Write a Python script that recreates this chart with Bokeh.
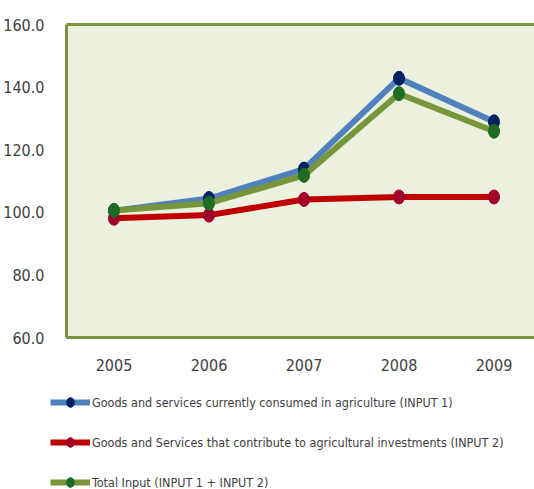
from bokeh.plotting import figure
from bokeh.layouts import column, row
from bokeh.models import (Range1d, FixedTicker, PrintfTickFormatter, LinearAxis,
                          Legend, LegendItem)
from bokeh.embed import file_html
from bokeh.resources import INLINE

years = [2005, 2006, 2007, 2008, 2009]
input1 = [100.5, 104.4, 113.8, 142.8, 128.9]
input2 = [98.1, 99.1, 104.1, 104.9, 104.9]
total = [100.6, 102.9, 111.8, 137.9, 125.9]
labels = ["Goods and services currently consumed in agriculture (INPUT 1)",
          "Goods and Services that contribute to agricultural investments (INPUT 2)",
          "Total Input (INPUT 1 + INPUT 2)"]
y_ticks = [60, 80, 100, 120, 140, 160]

FONT = "DejaVu Sans Condensed"
TXT = "#404040"
BORDER = "#77933C"

p = figure(width=534, height=378, output_backend="svg", toolbar_location=None,
           x_range=Range1d(2004.5, 2004.5 + 468 / 95), y_range=Range1d(60, 160),
           min_border_left=66, min_border_right=0, min_border_top=24, min_border_bottom=41)
p.background_fill_color = "#EBF0DF"
p.border_fill_color = "white"
p.outline_line_color = None
p.grid.visible = False

for ax in (p.xaxis[0], p.yaxis[0]):
    ax.axis_line_color = BORDER
    ax.axis_line_width = 3
    ax.major_tick_line_color = None
    ax.minor_tick_line_color = None
    ax.major_label_text_font = FONT
    ax.major_label_text_color = TXT
    ax.major_label_text_font_size = "16px"

p.yaxis.ticker = FixedTicker(ticks=y_ticks)
p.yaxis.formatter = PrintfTickFormatter(format="%.1f")
p.yaxis.major_label_standoff = 16
p.xaxis.ticker = FixedTicker(ticks=years)
p.xaxis.major_label_standoff = 15

top = LinearAxis(axis_line_color=BORDER, axis_line_width=3, major_tick_line_color=None,
                 minor_tick_line_color=None, major_label_text_font_size="0px",
                 major_label_standoff=0, ticker=FixedTicker(ticks=[]))
p.add_layout(top, "above")

series = [(input1, "#4F81BD", "#002060"),
          (input2, "#C00000", "#A0002A"),
          (total, "#77963A", "#1E6B24")]
for vals, lc, mc in series:
    p.line(years, vals, line_color=lc, line_width=6)
    p.ellipse(years, vals, width=11, height=14, width_units="screen",
              height_units="screen", fill_color=mc, line_color=mc)

# legend strip below the chart (same series, drawn outside its visible range)
lg = figure(width=534, height=111, output_backend="svg", toolbar_location=None,
            x_range=Range1d(0, 1), y_range=Range1d(0, 1),
            x_axis_location=None, y_axis_location=None, min_border=0)
lg.outline_line_color = None
lg.grid.visible = False
lg.background_fill_color = "white"
lg.border_fill_color = "white"
items = []
for (vals, lc, mc), lab in zip(series, labels):
    ln = lg.line(years, vals, line_color=lc, line_width=6)
    el = lg.ellipse(years, vals, width=11, height=14, width_units="screen",
                    height_units="screen", fill_color=mc, line_color=mc)
    items.append(LegendItem(label=lab, renderers=[ln, el]))

legend = Legend(items=items, location=(50, -3), orientation="vertical",
                label_text_font=FONT, label_text_font_size="12.5px", label_text_color=TXT,
                glyph_width=40, glyph_height=12, label_height=20, spacing=20,
                padding=0, margin=0, label_standoff=2,
                border_line_color=None, background_fill_alpha=0)
lg.add_layout(legend)

layout = column(p, row(lg), spacing=0)
open("out.html", "w").write(file_html(layout, INLINE))
